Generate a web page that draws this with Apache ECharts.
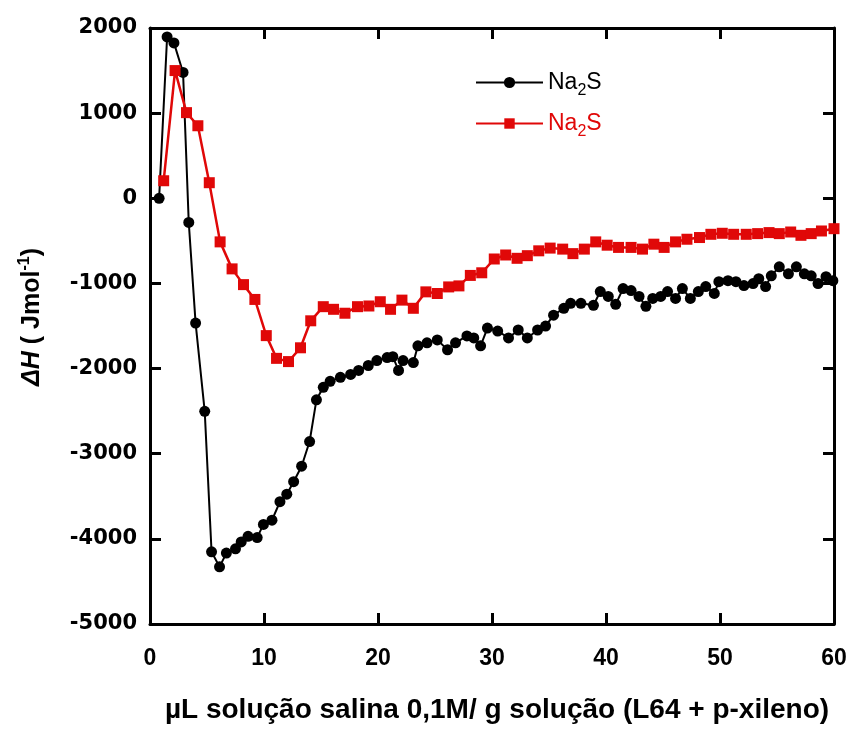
<!DOCTYPE html>
<html>
<head>
<meta charset="utf-8">
<script src="https://cdn.jsdelivr.net/npm/echarts@6/dist/echarts.min.js"></script>
<style>
  html, body { margin: 0; padding: 0; background: #fff; }
  #chart { width: 850px; height: 729px; }
</style>
</head>
<body>
<div id="chart"></div>
<script>
// Titration volume (µL salt solution per g of L64 + p-xylene solution)
const blackX = [0.8, 1.5, 2.1, 2.9, 3.4, 4.0, 4.8, 5.4, 6.1, 6.7, 7.5, 8.0, 8.6, 9.4, 9.95, 10.7, 11.4, 12.0, 12.6, 13.3, 14.0, 14.6,
  15.2, 15.8, 16.7, 17.6, 18.3, 19.15, 19.9, 20.8, 21.3, 21.8, 22.2, 23.1, 23.5, 24.3, 25.2, 26.1, 26.8, 27.8, 28.4, 29.0, 29.6,
  30.5, 31.45, 32.3, 33.1, 34.0, 34.7, 35.4, 36.3, 36.9, 37.8, 38.9, 39.5, 40.2, 40.85, 41.5, 42.2, 42.9, 43.5, 44.1, 44.8, 45.4,
  46.1, 46.7, 47.4, 48.1, 48.75, 49.5, 49.9, 50.7, 51.4, 52.1, 52.9, 53.4, 54.0, 54.5, 55.2, 56.0, 56.7, 57.4, 58.0, 58.6, 59.3, 59.9];
const blackH = [0, 1895, 1825, 1478, -284, -1466, -2502, -4152, -4329, -4167, -4117, -4036, -3970, -3985, -3830, -3781, -3564, -3475, -3329, -3147, -2857, -2367,
  -2220, -2150, -2103, -2069, -2022, -1964, -1906, -1871, -1860, -2022, -1906, -1929, -1733, -1698, -1663, -1779, -1698, -1617, -1640, -1733, -1524,
  -1559, -1640, -1547, -1640, -1547, -1501, -1373, -1292, -1234, -1234, -1257, -1095, -1153, -1246, -1060, -1084, -1153, -1269, -1176, -1153, -1095,
  -1176, -1060, -1176, -1095, -1037, -1118, -979, -968, -979, -1025, -1002, -945, -1037, -910, -805, -887, -805, -887, -910, -1002, -921, -968];

const redX = [1.2, 2.2, 3.2, 4.2, 5.2, 6.15, 7.2, 8.2, 9.2, 10.2, 11.1, 12.15, 13.2, 14.1, 15.2, 16.1, 17.1, 18.2, 19.2, 20.2, 21.1, 22.1, 23.1,
  24.2, 25.2, 26.2, 27.1, 28.1, 29.1, 30.2, 31.2, 32.2, 33.1, 34.1, 35.1, 36.2, 37.1, 38.1, 39.1, 40.1, 41.1, 42.2, 43.2, 44.2, 45.1, 46.1,
  47.1, 48.2, 49.2, 50.2, 51.2, 52.3, 53.3, 54.3, 55.2, 56.2, 57.1, 58.0, 58.9, 60.0];
const redH = [206, 1500, 1006, 852, 183, -512, -829, -1014, -1188, -1613, -1880, -1918, -1756, -1439, -1273, -1304, -1350, -1273, -1265, -1215, -1304, -1196, -1292,
  -1099, -1118, -1041, -1029, -906, -875, -713, -666, -705, -674, -617, -585, -597, -650, -597, -512, -551, -577, -577, -597, -539, -577, -512,
  -481, -461, -423, -411, -423, -423, -415, -403, -415, -396, -435, -415, -384, -357];

const xTicks = [0, 10, 20, 30, 40, 50, 60];
const yTicks = [-5000, -4000, -3000, -2000, -1000, 0, 1000, 2000];

const RED = '#e00808';
const pairs = (xs, ys) => xs.map((x, i) => [x, ys[i]]);

const chart = echarts.init(document.getElementById('chart'), null, { renderer: 'canvas' });

const tickStyle = { show: true, inside: true, length: 11, lineStyle: { color: '#000', width: 3 } };
const frameLine = { show: true, onZero: false, lineStyle: { color: '#000', width: 3 } };

const legendRich = (color) => ({
  n: { fontFamily: 'Liberation Sans, Arial, sans-serif', fontSize: 23, color: color, verticalAlign: 'middle' },
  s: { fontFamily: 'Liberation Sans, Arial, sans-serif', fontSize: 16, color: color, padding: [17, 0, 0, 0], verticalAlign: 'middle' }
});

chart.setOption({
  backgroundColor: '#fff',
  animation: false,
  grid: { left: 150, right: 16, top: 28, bottom: 97, show: false },
  legend: [
    {
      data: ['Na2S (a)'], left: 470, top: 66, itemWidth: 67, itemHeight: 14, itemGap: 5,
      formatter: () => '{n|Na}{s|2}{n|S}', textStyle: { rich: legendRich('#000') }
    },
    {
      data: ['Na2S (b)'], left: 470, top: 107, itemWidth: 67, itemHeight: 13, itemGap: 5,
      formatter: () => '{n|Na}{s|2}{n|S}', textStyle: { rich: legendRich(RED) }
    }
  ],
  xAxis: [
    {
      type: 'value', min: 0, max: 60, interval: 10, position: 'bottom',
      axisLine: frameLine, axisTick: tickStyle, splitLine: { show: false },
      axisLabel: {
        margin: 23, color: '#000', fontSize: 23, fontWeight: 'bold', fontFamily: 'Liberation Sans, Arial, sans-serif',
        formatter: (v) => xTicks.includes(v) ? String(v) : ''
      },
      name: 'µL solução salina 0,1M/ g solução (L64 + p-xileno)',
      nameLocation: 'middle', nameGap: 72,
      nameTextStyle: { color: '#000', fontSize: 28, fontWeight: 'bold', fontFamily: 'Liberation Sans, Arial, sans-serif', padding: [0, 0, 0, 10] }
    },
    {
      type: 'value', min: 0, max: 60, interval: 10, position: 'top',
      axisLine: frameLine, axisTick: tickStyle, axisLabel: { show: false }, splitLine: { show: false }
    }
  ],
  yAxis: [
    {
      type: 'value', min: -5000, max: 2000, interval: 1000, position: 'left',
      axisLine: frameLine, axisTick: tickStyle, splitLine: { show: false },
      axisLabel: {
        margin: 13, color: '#000', fontSize: 21, fontWeight: 'bold', fontFamily: 'DejaVu Sans, sans-serif',
        formatter: (v) => yTicks.includes(v) ? String(v) : ''
      },
      name: '{i|ΔH}{r| ( Jmol}{sup|-1}{r|)}',
      nameLocation: 'middle', nameRotate: 90, nameGap: 103,
      nameTextStyle: {
        padding: [0, 0, 0, 18],
        rich: {
          i: { fontFamily: 'Liberation Sans, Arial, sans-serif', fontSize: 25, fontWeight: 'bold', fontStyle: 'italic', color: '#000', verticalAlign: 'middle' },
          r: { fontFamily: 'Liberation Sans, Arial, sans-serif', fontSize: 25, fontWeight: 'bold', color: '#000', verticalAlign: 'middle' },
          sup: { fontFamily: 'Liberation Sans, Arial, sans-serif', fontSize: 16, fontWeight: 'bold', color: '#000', padding: [0, 0, 14, 0], verticalAlign: 'middle' }
        }
      }
    },
    {
      type: 'value', min: -5000, max: 2000, interval: 1000, position: 'right',
      axisLine: frameLine, axisTick: tickStyle, axisLabel: { show: false }, splitLine: { show: false }
    }
  ],
  series: [
    {
      name: 'Na2S (a)', type: 'line', data: pairs(blackX, blackH),
      symbol: 'circle', symbolSize: 11,
      lineStyle: { color: '#000', width: 2 },
      itemStyle: { color: '#000' }
    },
    {
      name: 'Na2S (b)', type: 'line', data: pairs(redX, redH),
      symbol: 'rect', symbolSize: 11,
      lineStyle: { color: RED, width: 2.5 },
      itemStyle: { color: RED }
    }
  ]
});
</script>
</body>
</html>
